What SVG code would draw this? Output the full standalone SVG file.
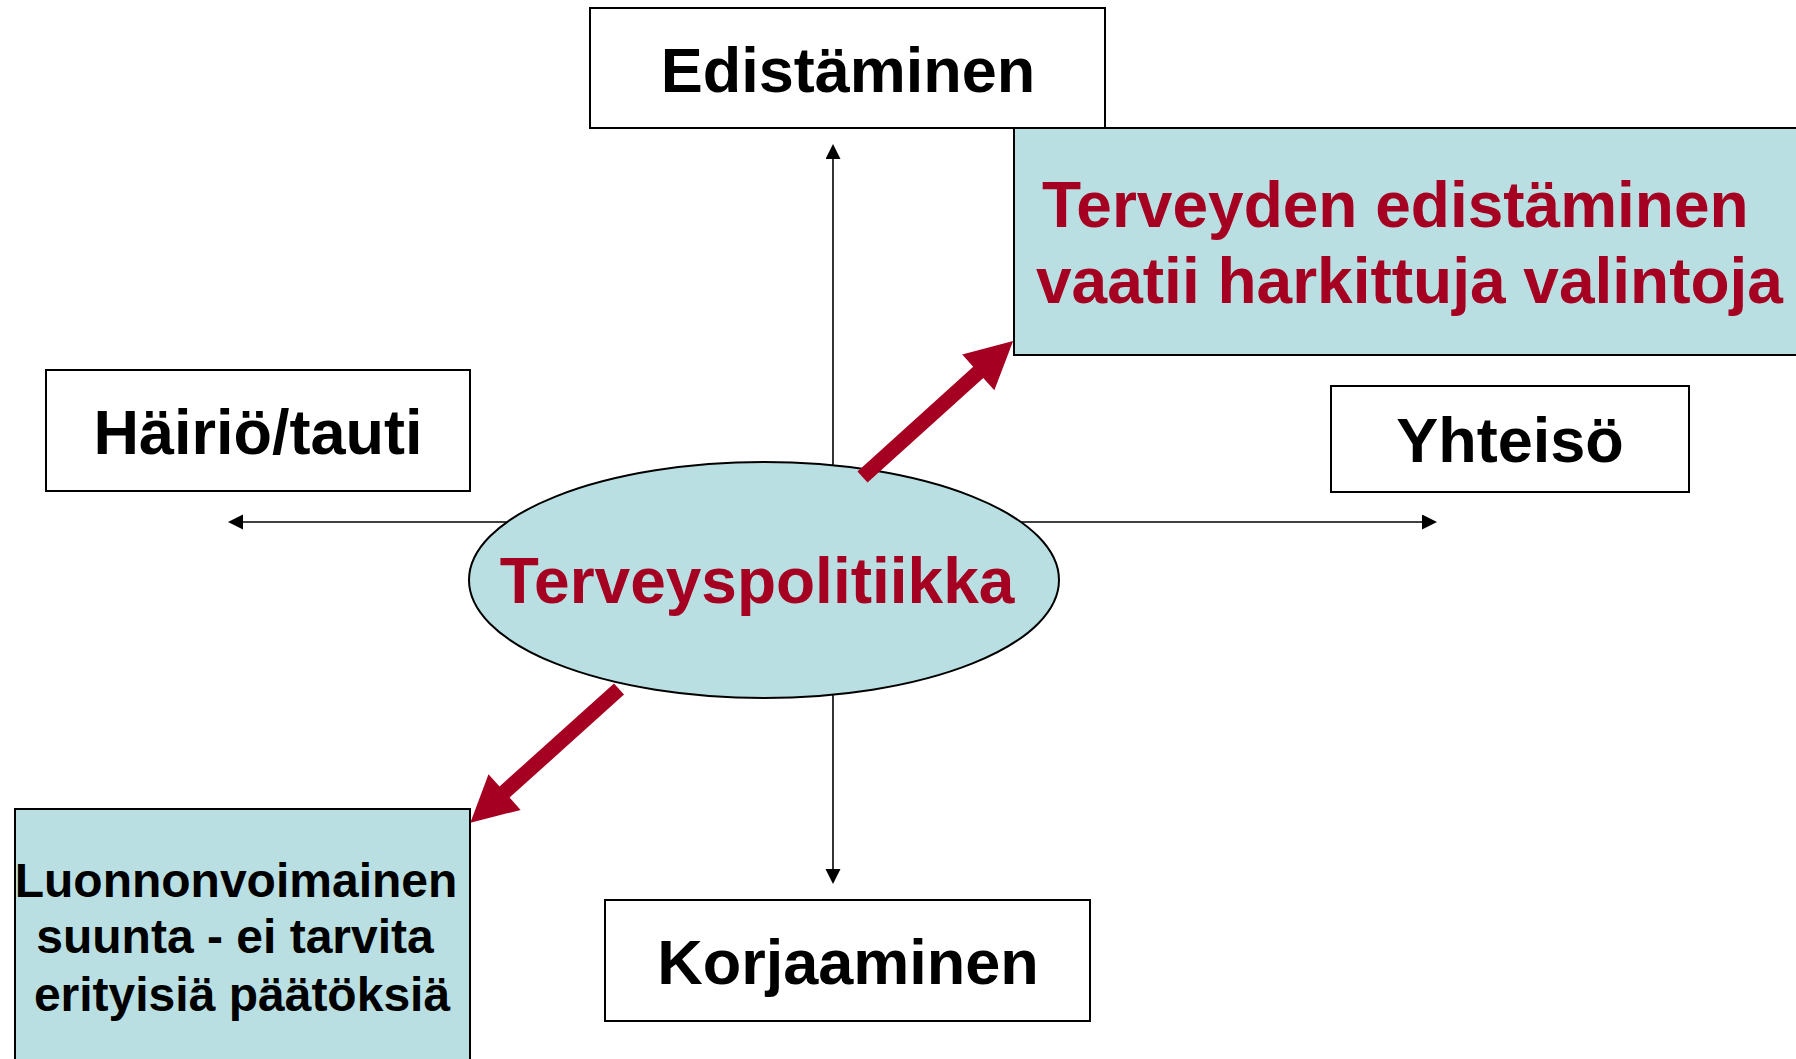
<svg xmlns="http://www.w3.org/2000/svg" width="1796" height="1059" viewBox="0 0 1796 1059">
  <style>
    .box { fill: #ffffff; stroke: #000000; stroke-width: 2; }
    .tbox { fill: #BADFE2; stroke: #000000; stroke-width: 2; }
    .lbl { font-family: "Liberation Sans", Arial, sans-serif; font-weight: bold; font-size: 63px; fill: #000000; text-anchor: middle; }
    .red { font-family: "Liberation Sans", Arial, sans-serif; font-weight: bold; font-size: 64px; fill: #A50021; }
    .small { font-family: "Liberation Sans", Arial, sans-serif; font-weight: bold; font-size: 48px; fill: #000000; text-anchor: middle; }
    .conn { stroke: #000000; stroke-width: 1.6; fill: none; marker-end: url(#ah); }
    .bigarrow { fill: #A50021; stroke: none; }
  </style>
  <defs>
    <marker id="ah" markerUnits="userSpaceOnUse" markerWidth="16" markerHeight="16" refX="0" refY="7.5" orient="auto">
      <path d="M0,0 L15,7.5 L0,15 Z" fill="#000000"/>
    </marker>
  </defs>
  <rect width="1796" height="1059" fill="#ffffff"/>

  <g id="node-edistaminen">
    <rect class="box" x="590" y="8" width="515" height="120"/>
    <text class="lbl" x="848" y="92">Edistäminen</text>
  </g>

  <g id="node-terveyden-edistaminen">
    <rect class="tbox" x="1014" y="128" width="790" height="227"/>
    <text class="red" x="1042" y="227">Terveyden edistäminen</text>
    <text class="red" x="1036" y="303">vaatii harkittuja valintoja</text>
  </g>

  <g id="node-hairio">
    <rect class="box" x="46" y="370" width="424" height="121"/>
    <text class="lbl" x="258" y="454">Häiriö/tauti</text>
  </g>

  <g id="node-yhteiso">
    <rect class="box" x="1331" y="386" width="358" height="106"/>
    <text class="lbl" x="1510" y="462">Yhteisö</text>
  </g>

  <g id="node-terveyspolitiikka">
    <ellipse cx="764" cy="580" rx="295" ry="118" fill="#BADFE2" stroke="#000000" stroke-width="2"/>
    <text class="red" x="757" y="603" text-anchor="middle">Terveyspolitiikka</text>
  </g>

  <g id="node-korjaaminen">
    <rect class="box" x="605" y="900" width="485" height="121"/>
    <text class="lbl" x="848" y="984">Korjaaminen</text>
  </g>

  <g id="node-luonnonvoimainen">
    <rect class="tbox" x="15" y="809" width="455" height="260"/>
    <text class="small" x="236" y="897">Luonnonvoimainen</text>
    <text class="small" x="235" y="953">suunta - ei tarvita</text>
    <text class="small" x="242" y="1011">erityisiä päätöksiä</text>
  </g>

  <g id="connectors">
    <path class="conn" d="M833,465 L833,159"/>
    <path class="conn" d="M833,695 L833,869"/>
    <path class="conn" d="M507,522 L243,522"/>
    <path class="conn" d="M1021,522 L1422,522"/>
    <polygon class="bigarrow" transform="translate(862.5,477) rotate(-42.1)" points="0,-7.5 156,-7.5 156,-24 203,0 156,24 156,7.5 0,7.5"/>
    <polygon class="bigarrow" transform="translate(619,689) rotate(138)" points="0,-7.5 154,-7.5 154,-24 200,0 154,24 154,7.5 0,7.5"/>
  </g>
</svg>
